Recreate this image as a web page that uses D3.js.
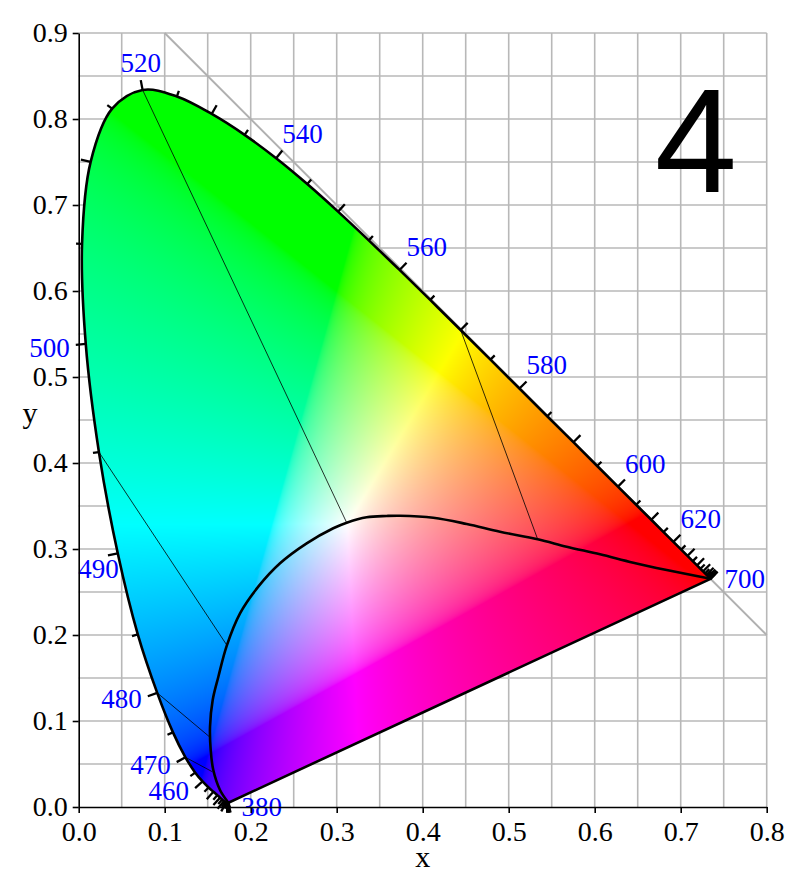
<!DOCTYPE html>
<html lang="en">
<head>
<meta charset="UTF-8">
<title>CIE 1931 xy chromaticity diagram</title>
<style>
  body { margin: 0; background: #fff; }
  svg { display: block; }
  .grid line { stroke: #b8b8b8; stroke-width: 1.6px; }
  .axis path, .axis line { stroke: #000; stroke-width: 1.6px; }
  .axis text { font-family: "Liberation Serif", "Times New Roman", serif; font-size: 28px; fill: #000; }
  .axis-title { font-family: "Liberation Serif", "Times New Roman", serif; font-size: 30px; fill: #000; }
  .wl-label { font-family: "Liberation Serif", "Times New Roman", serif; font-size: 27px; fill: #0000ff; }
  .wl-tick { stroke: #000; stroke-width: 2.3px; }
  .locus { fill: none; stroke: #000; stroke-width: 2.6px; stroke-linejoin: round; }
  .inner { fill: none; stroke: #000; stroke-width: 2.6px; }
  .connector { stroke: #000; stroke-width: 0.8px; }
  .diag { stroke: #b0b0b0; stroke-width: 2px; }
  .big-number { font-family: "Liberation Sans", Arial, sans-serif; font-size: 148px; fill: #000; }
</style>
</head>
<body>
<div id="chart"></div>
<script src="https://d3js.org/d3.v7.min.js"></script>
<script>
  // spectral locus, 5 nm steps
  const wavelengths = [
    380, 385, 390, 395, 400, 405, 410, 415, 420, 425,
    430, 435, 440, 445, 450, 455, 460, 465, 470, 475,
    480, 485, 490, 495, 500, 505, 510, 515, 520, 525,
    530, 535, 540, 545, 550, 555, 560, 565, 570, 575,
    580, 585, 590, 595, 600, 605, 610, 615, 620, 625,
    630, 635, 640, 645, 650, 655, 660, 665, 670, 675,
    680, 685, 690, 695, 700
  ];
  const locusX = [
    0.1741, 0.1740, 0.1738, 0.1736, 0.1733, 0.1730, 0.1726, 0.1721, 0.1714, 0.1703,
    0.1689, 0.1669, 0.1644, 0.1611, 0.1566, 0.1510, 0.1440, 0.1355, 0.1241, 0.1096,
    0.0913, 0.0687, 0.0454, 0.0235, 0.0082, 0.0039, 0.0139, 0.0389, 0.0743, 0.1142,
    0.1547, 0.1929, 0.2296, 0.2658, 0.3016, 0.3373, 0.3731, 0.4087, 0.4441, 0.4788,
    0.5125, 0.5448, 0.5752, 0.6029, 0.6270, 0.6482, 0.6658, 0.6801, 0.6915, 0.7006,
    0.7079, 0.7140, 0.7190, 0.7230, 0.7260, 0.7283, 0.7300, 0.7311, 0.7320, 0.7327,
    0.7334, 0.7340, 0.7344, 0.7346, 0.7347
  ];
  const locusY = [
    0.0050, 0.0050, 0.0049, 0.0049, 0.0048, 0.0048, 0.0048, 0.0048, 0.0051, 0.0058,
    0.0069, 0.0086, 0.0109, 0.0138, 0.0177, 0.0227, 0.0297, 0.0399, 0.0578, 0.0868,
    0.1327, 0.2007, 0.2950, 0.4127, 0.5384, 0.6548, 0.7502, 0.8120, 0.8338, 0.8262,
    0.8059, 0.7816, 0.7543, 0.7243, 0.6923, 0.6589, 0.6245, 0.5896, 0.5547, 0.5202,
    0.4866, 0.4544, 0.4242, 0.3965, 0.3725, 0.3514, 0.3340, 0.3197, 0.3083, 0.2993,
    0.2920, 0.2859, 0.2809, 0.2770, 0.2740, 0.2717, 0.2700, 0.2689, 0.2680, 0.2673,
    0.2666, 0.2660, 0.2656, 0.2654, 0.2653
  ];
  const labelledWl = [380, 460, 470, 480, 490, 500, 520, 540, 560, 580, 600, 620, 700];

  // inner curve (from the 700 nm end to the 380 nm end)
  const innerX = [0.7347, 0.6837, 0.6449, 0.6062, 0.5674, 0.5337, 0.4899, 0.4512, 0.4123, 0.3736,
                  0.3581, 0.3349, 0.3116, 0.2960, 0.2651, 0.2341, 0.2088, 0.1876, 0.1721, 0.1624,
                  0.1558, 0.1527, 0.1535, 0.1565, 0.1643, 0.1741];
  const innerY = [0.2653, 0.2756, 0.2841, 0.2938, 0.3027, 0.3113, 0.3201, 0.3291, 0.3364, 0.3387,
                  0.3384, 0.3369, 0.3306, 0.3241, 0.3066, 0.2834, 0.2562, 0.2252, 0.1874, 0.1515,
                  0.1244, 0.0934, 0.0663, 0.0430, 0.0198, 0.0050];

  // thin lines from the locus to the inner curve
  const connWl = [520, 570, 495, 480, 470];
  const connEndX = [0.3116, 0.5337, 0.1721, 0.1520, 0.1554];
  const connEndY = [0.3306, 0.3113, 0.1884, 0.0817, 0.0410];

  const xTicks = [0, 0.1, 0.2, 0.3, 0.4, 0.5, 0.6, 0.7, 0.8];
  const yTicks = [0, 0.1, 0.2, 0.3, 0.4, 0.5, 0.6, 0.7, 0.8, 0.9];
  const gridX = [0.05, 0.1, 0.15, 0.2, 0.25, 0.3, 0.35, 0.4, 0.45, 0.5, 0.55, 0.6, 0.65, 0.7, 0.75, 0.8];
  const gridY = [0.05, 0.1, 0.15, 0.2, 0.25, 0.3, 0.35, 0.4, 0.45, 0.5, 0.55, 0.6, 0.65, 0.7, 0.75, 0.8, 0.85, 0.9];

  const width = 798, height = 882;

  const xScale = d3.scaleLinear().domain([0, 0.8]).range([78.7, 766.7]);
  const yScale = d3.scaleLinear().domain([0, 0.9]).range([807, 33]);

  const svg = d3.select("#chart")
    .append("svg")
      .attr("width", width)
      .attr("height", height);

  // Grid
  const grid = svg.append("g").attr("class", "grid");
  grid.selectAll(".gx").data(gridX).join("line")
    .attr("x1", d => xScale(d)).attr("x2", d => xScale(d))
    .attr("y1", yScale(0)).attr("y2", yScale(0.9));
  grid.selectAll(".gy").data(gridY).join("line")
    .attr("x1", xScale(0)).attr("x2", xScale(0.8))
    .attr("y1", d => yScale(d)).attr("y2", d => yScale(d));

  // x + y = 1
  svg.append("line").attr("class", "diag")
    .attr("x1", xScale(0.1)).attr("y1", yScale(0.9))
    .attr("x2", xScale(0.8)).attr("y2", yScale(0.2));

  // Locus geometry
  const locus = wavelengths.map((w, i) => ({ w, x: locusX[i], y: locusY[i] }));
  const lineGen = d3.line()
    .x(d => xScale(d.x))
    .y(d => yScale(d.y))
    .curve(d3.curveCatmullRom.alpha(0.5));

  svg.append("clipPath").attr("id", "locusClip")
    .append("path").attr("d", lineGen(locus) + "Z");

  // Colour fill: chromaticity -> sRGB, normalised to max channel
  function xyToRgb(x, y) {
    const X = x / y, Y = 1, Z = (1 - x - y) / y;
    let r = 3.2406 * X - 1.5372 * Y - 0.4986 * Z;
    let g = -0.9689 * X + 1.8758 * Y + 0.0415 * Z;
    let b = 0.0557 * X - 0.2040 * Y + 1.0570 * Z;
    r = Math.max(r, 0); g = Math.max(g, 0); b = Math.max(b, 0);
    const m = Math.max(r, g, b) || 1;
    const gam = v => v <= 0.0031308 ? 12.92 * v : 1.055 * Math.pow(v, 1 / 2.4) - 0.055;
    return [gam(r / m) * 255, gam(g / m) * 255, gam(b / m) * 255];
  }

  const px0 = xScale(0), py0 = yScale(0.9);
  const W = Math.ceil(xScale(0.8) - px0), H = Math.ceil(yScale(0) - py0);
  const scale = 2;
  const canvas = document.createElement("canvas");
  canvas.width = W * scale; canvas.height = H * scale;
  const ctx = canvas.getContext("2d");
  const img = ctx.createImageData(canvas.width, canvas.height);
  for (let j = 0; j < canvas.height; j++) {
    const cy = Math.max(yScale.invert(py0 + (j + 0.5) / scale), 0.002);
    for (let i = 0; i < canvas.width; i++) {
      const cx = xScale.invert(px0 + (i + 0.5) / scale);
      const c = xyToRgb(cx, cy);
      const k = (j * canvas.width + i) * 4;
      img.data[k] = c[0]; img.data[k + 1] = c[1]; img.data[k + 2] = c[2]; img.data[k + 3] = 255;
    }
  }
  ctx.putImageData(img, 0, 0);

  svg.append("image")
    .attr("href", canvas.toDataURL())
    .attr("x", px0).attr("y", py0)
    .attr("width", W).attr("height", H)
    .attr("preserveAspectRatio", "none")
    .attr("clip-path", "url(#locusClip)");

  // Connectors
  svg.selectAll(".connector").data(connWl).join("line")
    .attr("class", "connector")
    .attr("x1", d => xScale(locusX[wavelengths.indexOf(d)]))
    .attr("y1", d => yScale(locusY[wavelengths.indexOf(d)]))
    .attr("x2", (d, i) => xScale(connEndX[i]))
    .attr("y2", (d, i) => yScale(connEndY[i]));

  // Inner curve
  const inner = innerX.map((x, i) => ({ x, y: innerY[i] }));
  svg.append("path").attr("class", "inner").attr("d", lineGen(inner));

  // Spectral locus + purple line
  svg.append("path").attr("class", "locus").attr("d", lineGen(locus) + "Z");

  // Wavelength ticks (outward normals in pixel space)
  const pts = locus.map(d => [xScale(d.x), yScale(d.y)]);
  const last = pts.length - 1;
  const normals = pts.map((p, i) => {
    const a = pts[Math.max(i - 1, 0)], b = pts[Math.min(i + 1, last)];
    let tx = b[0] - a[0], ty = b[1] - a[1];
    const L = Math.hypot(tx, ty) || 1;
    tx /= L; ty /= L;
    return [ty, -tx];
  });
  const tickLen = w => (w % 10 === 0 ? 10 : 6);

  svg.append("g").selectAll("line").data(locus).join("line")
    .attr("class", "wl-tick")
    .attr("x1", (d, i) => pts[i][0])
    .attr("y1", (d, i) => pts[i][1])
    .attr("x2", (d, i) => pts[i][0] + normals[i][0] * tickLen(d.w))
    .attr("y2", (d, i) => pts[i][1] + normals[i][1] * tickLen(d.w));

  // Wavelength labels
  const labelW = 40;
  function placeLabel(w) {
    const i = wavelengths.indexOf(w);
    const P = pts[i], n = normals[i], len = tickLen(w);
    const E = [P[0] + n[0] * len, P[1] + n[1] * len];
    if (i === 0) return { x: P[0] + 13, y: P[1] + 4, anchor: "start", dy: "0.33em" };
    if (i === last) return { x: P[0] + 14, y: P[1], anchor: "start", dy: "0.33em" };
    if (n[0] < -0.5) {
      const right = E[0] - 6;
      if (right - labelW < xScale(0) && right > xScale(0)) {
        // would sit on the y axis: drop it below the tick
        return { x: P[0] + 1, y: E[1] + 14, anchor: "end", dy: "0.33em" };
      }
      return { x: right, y: E[1] + 3, anchor: "end", dy: "0.33em" };
    }
    if (n[0] > 0.4) return { x: E[0], y: E[1] - 7, anchor: "start", dy: "0" };
    return { x: E[0], y: E[1] - 8, anchor: "middle", dy: "0" };
  }

  svg.append("g").selectAll("text").data(labelledWl).join("text")
    .attr("class", "wl-label")
    .each(function (d) {
      const p = placeLabel(d);
      d3.select(this)
        .attr("x", p.x).attr("y", p.y)
        .attr("dy", p.dy)
        .attr("text-anchor", p.anchor)
        .text(d);
    });

  // Axes
  const fmt = d3.format(".1f");
  const xAxis = svg.append("g")
    .attr("class", "axis")
    .attr("transform", `translate(0,${yScale(0)})`)
    .call(d3.axisBottom(xScale).tickValues(xTicks).tickFormat(fmt)
      .tickSize(6).tickSizeOuter(0).tickPadding(8));
  const yAxis = svg.append("g")
    .attr("class", "axis")
    .attr("transform", `translate(${xScale(0)},0)`)
    .call(d3.axisLeft(yScale).tickValues(yTicks).tickFormat(fmt)
      .tickSize(6).tickSizeOuter(0).tickPadding(5));
  [xAxis, yAxis].forEach(a => a.attr("font-size", null).attr("font-family", null));

  // Axis titles
  svg.append("text")
    .attr("class", "axis-title")
    .attr("text-anchor", "middle")
    .attr("x", xScale(0.4))
    .attr("y", 867)
    .text("x");

  svg.append("text")
    .attr("class", "axis-title")
    .attr("text-anchor", "middle")
    .attr("x", 30)
    .attr("y", yScale(0.45) + 3)
    .text("y");

  // Panel number
  svg.append("text")
    .attr("class", "big-number")
    .attr("text-anchor", "middle")
    .attr("x", 696)
    .attr("y", 192)
    .text("4");
</script>
</body>
</html>
